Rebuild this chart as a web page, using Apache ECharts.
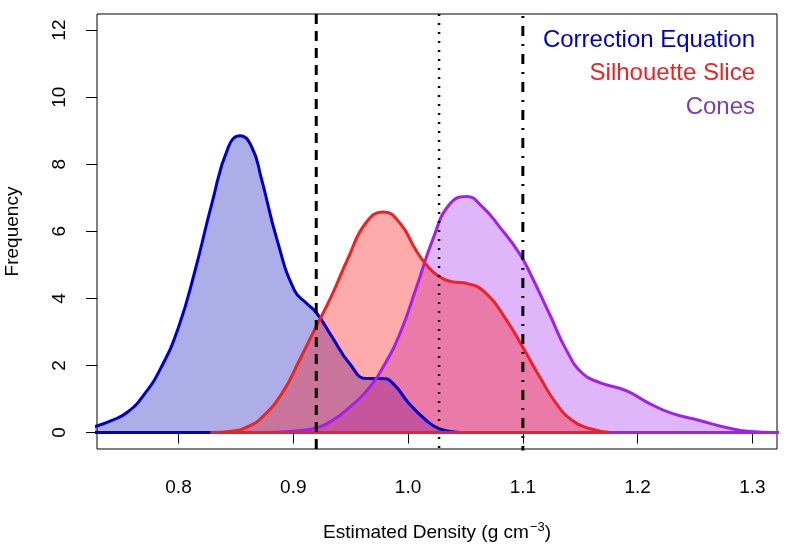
<!DOCTYPE html>
<html><head><meta charset="utf-8">
<script src="https://cdn.jsdelivr.net/npm/echarts@6/dist/echarts.min.js"></script>
<style>html,body{margin:0;padding:0;background:#fff}#c{width:794px;height:548px}</style>
</head><body><div id="c"></div>
<script>
// ---- data ----
const xTicks = [0.8, 0.9, 1.0, 1.1, 1.2, 1.3];
const yTicks = [0, 2, 4, 6, 8, 10, 12];
const seriesNames = ['Correction Equation', 'Silhouette Slice', 'Cones'];
const vlineX = [0.92, 1.027, 1.1];

const correctionX = [0.68, 0.70, 0.715, 0.727, 0.742, 0.756, 0.770, 0.785, 0.800, 0.8145, 0.829, 0.8435, 0.8537, 0.864, 0.872, 0.886, 0.901, 0.912, 0.920, 0.934, 0.949, 0.964, 0.978, 0.987, 1.001, 1.016, 1.027, 1.040, 1.050];
const correctionY = [0.0, 0.03, 0.09, 0.18, 0.36, 0.62, 1.13, 1.95, 3.14, 4.84, 6.82, 8.52, 8.85, 8.5, 7.6, 5.73, 4.24, 3.84, 3.58, 2.84, 2.06, 1.61, 1.61, 1.46, 0.86, 0.36, 0.12, 0.02, 0.0];

const silhouetteX = [0.828, 0.848, 0.862, 0.8726, 0.890, 0.906, 0.919, 0.933, 0.948, 0.963, 0.9785, 0.993, 1.007, 1.016, 1.027, 1.038, 1.051, 1.068, 1.086, 1.100, 1.115, 1.129, 1.143, 1.158, 1.176];
const silhouetteY = [0.0, 0.05, 0.2, 0.45, 1.16, 2.2, 3.1, 4.05, 5.22, 6.24, 6.58, 6.24, 5.43, 5.0, 4.65, 4.5, 4.45, 4.15, 3.34, 2.54, 1.64, 0.87, 0.36, 0.12, 0.0];

const conesX = [0.870, 0.890, 0.906, 0.920, 0.934, 0.949, 0.964, 0.978, 0.993, 1.007, 1.022, 1.036, 1.051, 1.065, 1.080, 1.097, 1.108, 1.123, 1.138, 1.152, 1.167, 1.190, 1.210, 1.230, 1.254, 1.277, 1.298, 1.320, 1.350];
const conesY = [0.0, 0.02, 0.06, 0.14, 0.36, 0.75, 1.25, 1.94, 2.96, 4.3, 5.8, 6.8, 7.04, 6.72, 6.12, 5.34, 4.63, 3.55, 2.45, 1.76, 1.49, 1.25, 0.87, 0.57, 0.36, 0.15, 0.03, 0.0, 0.0];

// ---- styles ----
const FONT = 'Liberation Sans, Arial, sans-serif';
const lineColors = ['#0000CD', '#EE2222', '#A020F0'];
const fillColors = ['rgba(0,0,180,0.32)', 'rgba(255,0,0,0.33)', 'rgba(160,32,240,0.33)'];
const textColors = ['#0000CD', '#EE2222', '#7B3DB5'];
const vlineTypes = [[10, 7], [2, 7], [2, 8, 10, 8]];
const vlineWidths = [3, 2.5, 3];

const zip = (xs, ys) => xs.map((x, i) => [x, ys[i]]);
const groups = [
  [correctionX, correctionY],
  [silhouetteX, silhouetteY],
  [conesX, conesY]
];
// draw order: blue, purple, red (red on top)
const drawOrder = [0, 2, 1];
const series = [];
drawOrder.forEach(k => {
  const [xs, ys] = groups[k];
  series.push({
    type: 'line', name: seriesNames[k], data: zip(xs, ys), smooth: 0.5,
    symbol: 'none', silent: true,
    lineStyle: { color: lineColors[k], width: 3 },
    areaStyle: { color: fillColors[k], origin: 0, opacity: 1 }
  });
  series.push({
    type: 'line', data: [[xs[0], 0], [xs[xs.length - 1], 0]], symbol: 'none', silent: true,
    lineStyle: { color: lineColors[k], width: 3 }
  });
});
vlineX.forEach((x, i) => {
  series.push({
    type: 'line', data: [[x, -1], [x, 13]], symbol: 'none', silent: true,
    lineStyle: { color: '#000', width: vlineWidths[i], type: vlineTypes[i] }
  });
});

const chart = echarts.init(document.getElementById('c'));
chart.setOption({
  animation: false,
  backgroundColor: '#fff',
  grid: { left: 97, right: 17, top: 14, bottom: 99, containLabel: false, outerBoundsMode: 'none', show: true, borderColor: '#000', borderWidth: 1, backgroundColor: 'transparent' },
  xAxis: {
    type: 'value', min: 0.729, max: 1.3214,
    axisLine: { show: false }, splitLine: { show: false },
    axisTick: { show: true, length: 11, customValues: xTicks, lineStyle: { color: '#000', width: 1 } },
    axisLabel: { customValues: xTicks, formatter: v => v.toFixed(1), margin: 29, fontSize: 19, color: '#000', fontFamily: FONT },
    name: '{a|Estimated Density (g cm}{s|−3}{a|)}',
    nameLocation: 'middle', nameGap: 72,
    nameTextStyle: {
      rich: {
        a: { fontSize: 19, fontFamily: FONT, color: '#000', lineHeight: 24 },
        s: { fontSize: 13, fontFamily: FONT, color: '#000', verticalAlign: 'top', lineHeight: 24, padding: [0, 0, 0, 1] }
      }
    }
  },
  yAxis: {
    type: 'value', min: -0.49, max: 12.48,
    axisLine: { show: false }, splitLine: { show: false },
    axisTick: { show: true, length: 11, customValues: yTicks, lineStyle: { color: '#000', width: 1 } },
    axisLabel: { customValues: yTicks, rotate: 90, margin: 28, fontSize: 19, color: '#000', fontFamily: FONT },
    name: 'Frequency', nameLocation: 'middle', nameGap: 75,
    nameTextStyle: { fontSize: 19, fontFamily: FONT, color: '#000' }
  },
  graphic: seriesNames.map((t, i) => ({
    type: 'text', x: 755, y: [40, 73, 107][i], silent: true,
    style: { text: t, fill: textColors[i], fontSize: 24, fontFamily: FONT, align: 'right', verticalAlign: 'middle' }
  })),
  series: series
});
</script></body></html>
